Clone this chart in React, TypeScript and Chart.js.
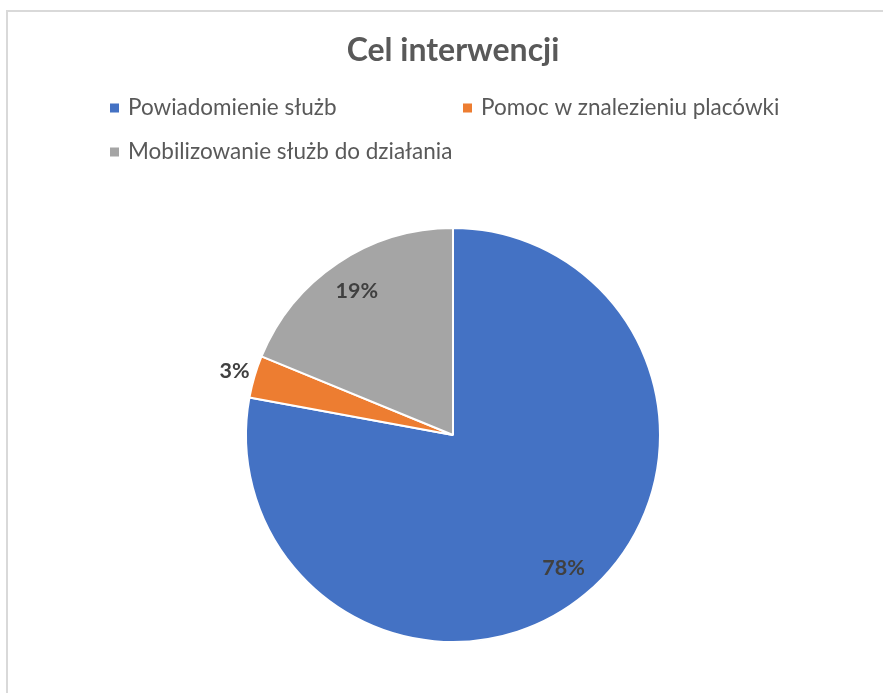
import React, { useEffect, useRef } from "react";
import { Chart, registerables } from "chart.js";

Chart.register(...registerables);

const chartTitle = "Cel interwencji";
const categories = [
  "Powiadomienie służb",
  "Pomoc w znalezieniu placówki",
  "Mobilizowanie służb do działania",
];
const shares = [77.9, 3.3, 18.8];
const percentLabels = ["78%", "3%", "19%"];
const colors = ["#4472C4", "#ED7D31", "#A5A5A5"];

const FONT = "Lato, 'Open Sans', sans-serif";

const decorPlugin = {
  id: "decor",
  beforeDraw(chart: any) {
    const ctx = chart.ctx;
    ctx.save();
    ctx.fillStyle = "#ffffff";
    ctx.fillRect(0, 0, chart.width, chart.height);
    ctx.strokeStyle = "#d9d9d9";
    ctx.lineWidth = 2;
    ctx.beginPath();
    ctx.moveTo(7, chart.height + 5);
    ctx.lineTo(7, 11);
    ctx.lineTo(883, 11);
    ctx.stroke();
    ctx.restore();
  },
  afterDraw(chart: any) {
    const ctx = chart.ctx;
    ctx.save();
    // title
    ctx.fillStyle = "#595959";
    ctx.font = `bold 32px ${FONT}`;
    ctx.textAlign = "center";
    ctx.textBaseline = "middle";
    ctx.fillText(chartTitle, 453, 51);

    // legend
    const cols = [110, 463];
    const rows = [108, 152];
    const labels: string[] = chart.data.labels;
    const bg: string[] = chart.data.datasets[0].backgroundColor;
    ctx.font = `22.5px ${FONT}`;
    ctx.textAlign = "left";
    labels.forEach((lab, i) => {
      const x = cols[i % 2];
      const y = rows[Math.floor(i / 2)];
      ctx.fillStyle = bg[i];
      ctx.fillRect(x, y - 4.5, 9, 9);
      ctx.fillStyle = "#595959";
      ctx.fillText(lab, x + 18, y);
    });

    // data labels
    const meta = chart.getDatasetMeta(0);
    const data: number[] = chart.data.datasets[0].data;
    ctx.font = `bold 21.5px ${FONT}`;
    ctx.fillStyle = "#404040";
    ctx.textAlign = "center";
    meta.data.forEach((arc: any, i: number) => {
      const mid = (arc.startAngle + arc.endAngle) / 2;
      const frac = data[i] < 5 ? 1.1 : 0.835;
      const r = arc.outerRadius * frac;
      const x = arc.x + Math.cos(mid) * r;
      const y = arc.y + Math.sin(mid) * r;
      ctx.fillText(percentLabels[i], x, y);
    });
    ctx.restore();
  },
};

export default function App() {
  const ref = useRef<HTMLCanvasElement | null>(null);
  useEffect(() => {
    if (!ref.current) return;
    const chart = new Chart(ref.current, {
      type: "pie",
      data: {
        labels: categories,
        datasets: [
          {
            data: shares,
            backgroundColor: colors,
            borderColor: "#ffffff",
            borderWidth: 2,
          },
        ],
      },
      options: {
        animation: false,
        responsive: false,
        maintainAspectRatio: false,
        layout: { padding: { left: 245, right: 223, top: 227, bottom: 50 } },
        plugins: {
          legend: { display: false },
          title: { display: false },
          tooltip: { enabled: false },
        },
      },
      plugins: [decorPlugin],
    });
    return () => chart.destroy();
  }, []);
  return (
    <div style={{ position: "fixed", left: 0, top: 0, width: 884, height: 693, background: "#fff" }}>
      <canvas ref={ref} width={884} height={693} style={{ width: 884, height: 693 }} />
    </div>
  );
}
